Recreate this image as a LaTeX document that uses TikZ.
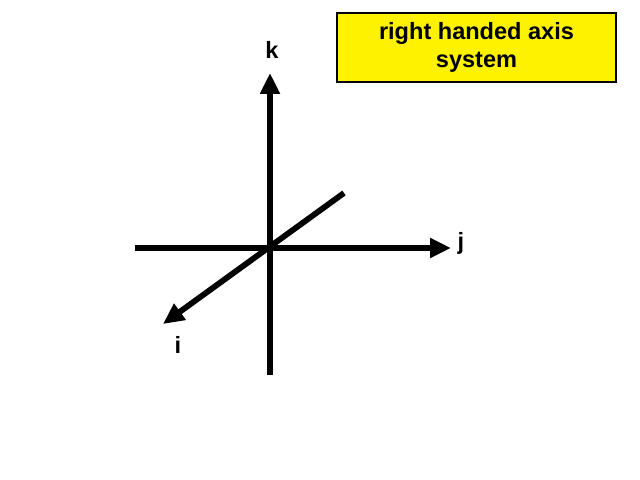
\documentclass[tikz,border=0pt]{standalone}
\usepackage{fontspec}
\setmainfont{Liberation Sans}
\usepackage{tikz}
\usetikzlibrary{calc}
\usetikzlibrary{arrows.meta,positioning}

\tikzset{
  axisline/.style={line width=3.3pt},
  axisarrow/.style={axisline,-{Triangle[length=0.42cm,width=0.38cm]}},
  axislabel/.style={font=\fontsize{13.4}{16}\selectfont\bfseries},
  notebox/.style={draw,line width=1pt,fill=yellow,align=center,
    minimum width=5.58cm,minimum height=1.38cm,
    font=\fontsize{13.4}{15.9}\selectfont\bfseries}
}

\begin{document}
\begin{tikzpicture}[x=0.02cm,y=-0.02cm]
      \useasboundingbox (0,0) rectangle (640,480);
      % axes
      \coordinate (O) at (270,248);
      \coordinate (kbot) at (270,375);
      \coordinate (ktip) at (270,73);
      \coordinate (jbot) at (135,248);
      \coordinate (jtip) at (451,248);
      \coordinate (ibot) at (344,193);
      \coordinate (itip) at (163,324);
      \draw[axisarrow] (kbot) -- (ktip);
      \draw[axisarrow] (jbot) -- (jtip);
      \draw[axisarrow] (ibot) -- (itip);
      % labels
      \node[axislabel] (klab) at (272,50) {k};
      \node[axislabel] (jlab) at (461,243) {j};
      \node[axislabel] (ilab) at (178,345) {i};
      \node[notebox] (note) at (476.5,47.5) {right handed axis\\system};
    \end{tikzpicture}
\end{document}
